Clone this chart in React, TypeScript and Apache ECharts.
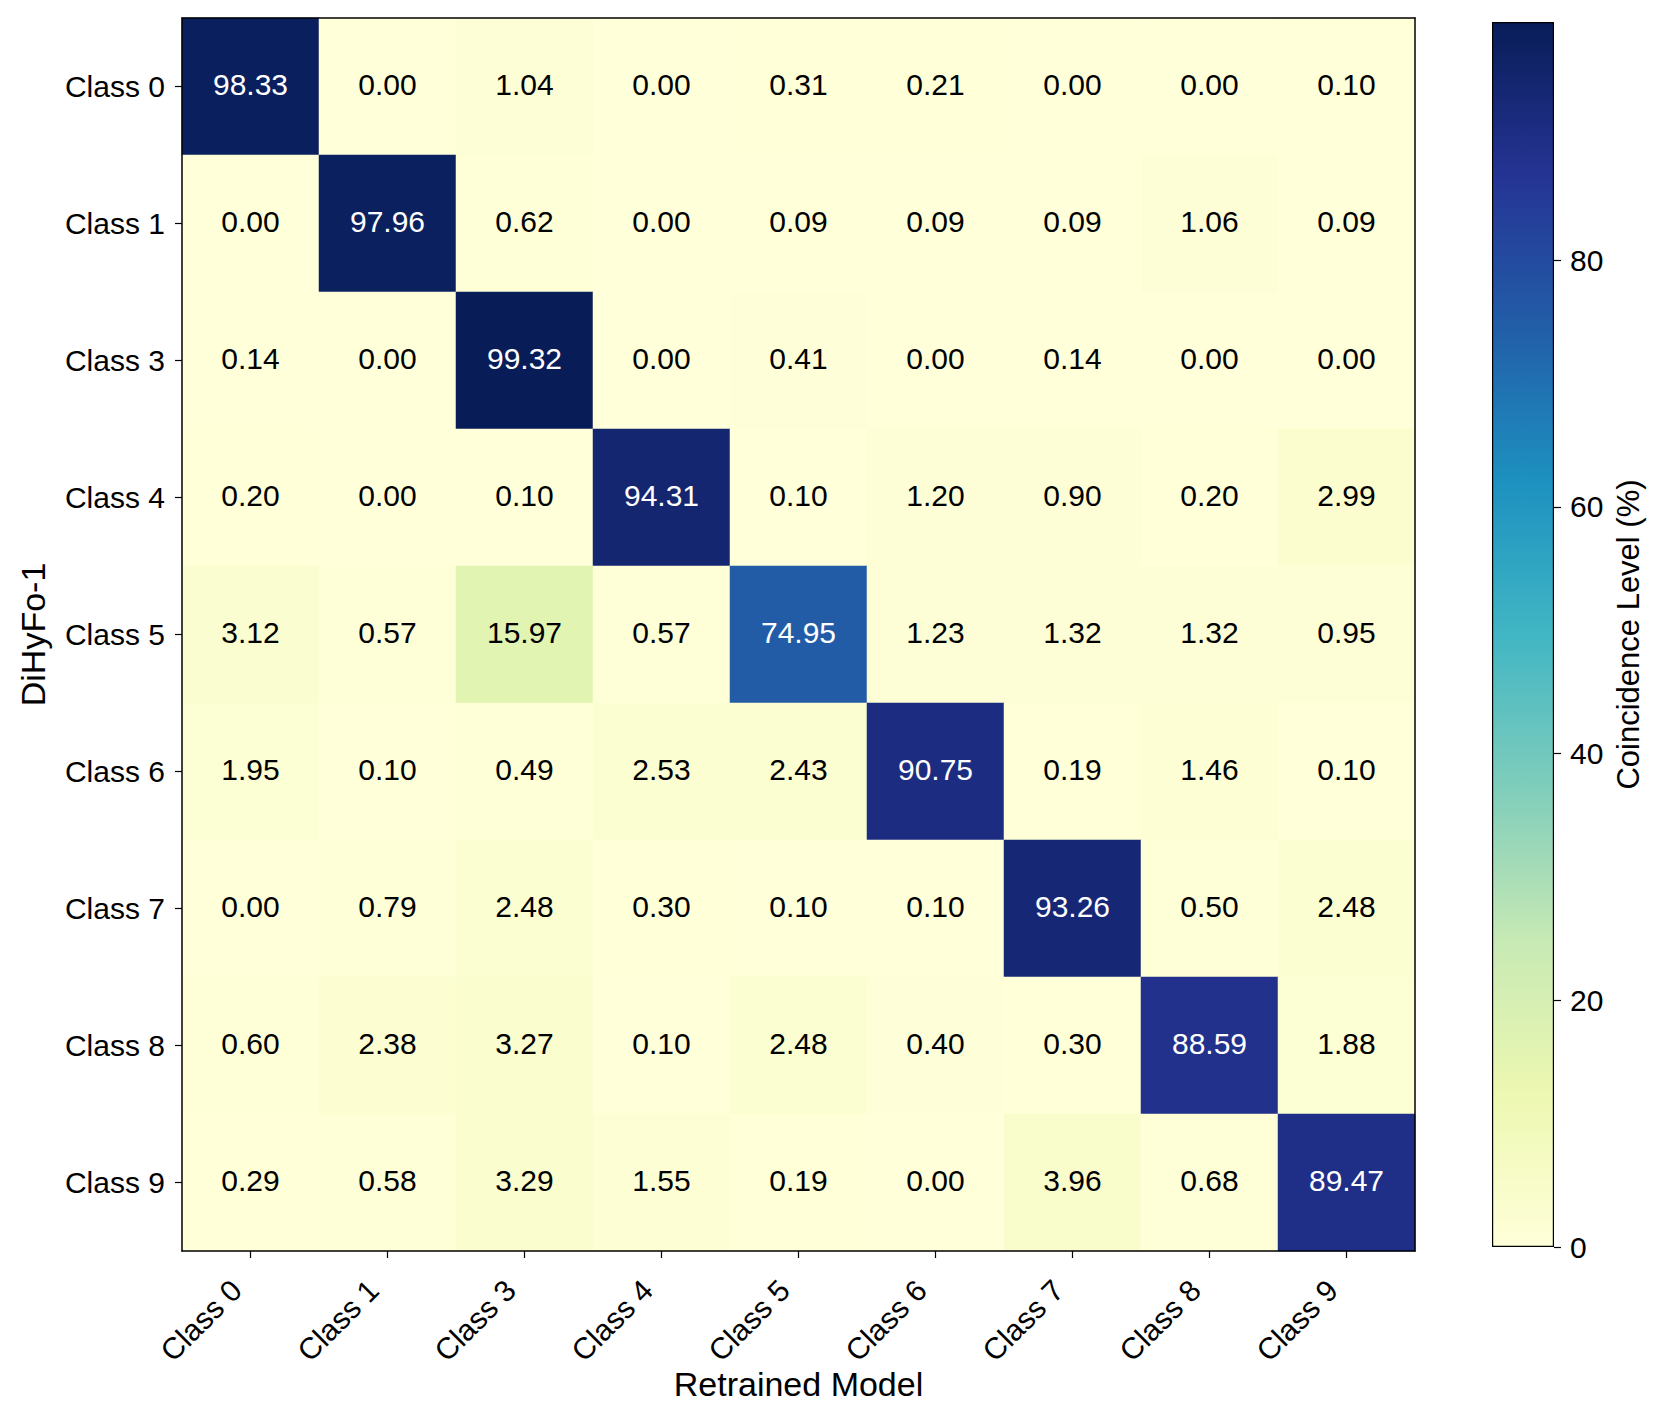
import React, { useEffect, useRef } from "react";
import * as echarts from "echarts";

const xCategories = ["Class 0", "Class 1", "Class 3", "Class 4", "Class 5", "Class 6", "Class 7", "Class 8", "Class 9"];
const yCategories = ["Class 0", "Class 1", "Class 3", "Class 4", "Class 5", "Class 6", "Class 7", "Class 8", "Class 9"];

const rowClass0 = [98.33, 0.0, 1.04, 0.0, 0.31, 0.21, 0.0, 0.0, 0.1];
const rowClass1 = [0.0, 97.96, 0.62, 0.0, 0.09, 0.09, 0.09, 1.06, 0.09];
const rowClass3 = [0.14, 0.0, 99.32, 0.0, 0.41, 0.0, 0.14, 0.0, 0.0];
const rowClass4 = [0.2, 0.0, 0.1, 94.31, 0.1, 1.2, 0.9, 0.2, 2.99];
const rowClass5 = [3.12, 0.57, 15.97, 0.57, 74.95, 1.23, 1.32, 1.32, 0.95];
const rowClass6 = [1.95, 0.1, 0.49, 2.53, 2.43, 90.75, 0.19, 1.46, 0.1];
const rowClass7 = [0.0, 0.79, 2.48, 0.3, 0.1, 0.1, 93.26, 0.5, 2.48];
const rowClass8 = [0.6, 2.38, 3.27, 0.1, 2.48, 0.4, 0.3, 88.59, 1.88];
const rowClass9 = [0.29, 0.58, 3.29, 1.55, 0.19, 0.0, 3.96, 0.68, 89.47];

const rows = [rowClass0, rowClass1, rowClass3, rowClass4, rowClass5, rowClass6, rowClass7, rowClass8, rowClass9];

const colorbarTicks = [0, 20, 40, 60, 80];
const ylgnbu = ["#ffffd9", "#edf8b1", "#c7e9b4", "#7fcdbb", "#41b6c4", "#1d91c0", "#225ea8", "#253494", "#081d58"];

const FONT = "'Liberation Sans', Arial, Helvetica, sans-serif";

export default function App() {
  const ref = useRef<HTMLDivElement>(null);

  useEffect(() => {
    document.body.style.margin = "0";
    document.body.style.overflow = "hidden";
    if (!ref.current) return;
    const chart = echarts.init(ref.current, null, { renderer: "svg" });

    const all = rows.flat();
    const colorMax = Math.max(...all);
    const colorMin = 0;
    const thresh = (colorMax + colorMin) / 2;

    const data: any[] = [];
    rows.forEach((row, yi) => {
      row.forEach((v, xi) => {
        data.push({
          value: [xi, yi, v],
          label: { color: v > thresh ? "#ffffff" : "#000000" },
        });
      });
    });

    const gradStops = ylgnbu
      .slice()
      .reverse()
      .map((c, i, arr) => ({ offset: i / (arr.length - 1), color: c }));

    const option: any = {
      animation: false,
      backgroundColor: "#ffffff",
      textStyle: { fontFamily: FONT },
      grid: [
        { left: 182, top: 18, width: 1233, height: 1233, containLabel: false },
        { left: 1492, top: 22, width: 62, height: 1225, containLabel: false },
      ],
      xAxis: [
        {
          type: "category",
          gridIndex: 0,
          data: xCategories,
          position: "bottom",
          z: 10,
          axisLine: { show: true, lineStyle: { color: "#000", width: 1.5 } },
          axisTick: { show: true, alignWithLabel: true, length: 7, lineStyle: { color: "#000", width: 1.2 } },
          axisLabel: {
            rotate: 45,
            fontSize: 30,
            color: "#000",
            margin: 20,
            padding: [0, 20, 0, 0],
            fontFamily: FONT,
            interval: 0,
          },
          splitLine: { show: false },
          name: "Retrained Model",
          nameLocation: "middle",
          nameMoveOverlap: false,
          nameGap: 116,
          nameTextStyle: { fontSize: 34, color: "#000", fontFamily: FONT },
        },
        {
          type: "category",
          gridIndex: 0,
          data: xCategories,
          position: "top",
          z: 10,
          axisLine: { show: true, lineStyle: { color: "#000", width: 1.5 } },
          axisTick: { show: false },
          axisLabel: { show: false },
        },
        {
          type: "category",
          gridIndex: 1,
          data: ["cb"],
          show: false,
        },
      ],
      yAxis: [
        {
          type: "category",
          gridIndex: 0,
          data: yCategories,
          inverse: true,
          position: "left",
          z: 10,
          axisLine: { show: true, lineStyle: { color: "#000", width: 1.5 } },
          axisTick: { show: true, alignWithLabel: true, length: 7, lineStyle: { color: "#000", width: 1.2 } },
          axisLabel: { fontSize: 30, color: "#000", margin: 17, fontFamily: FONT },
          splitLine: { show: false },
          name: "DiHyFo-1",
          nameLocation: "middle",
          nameRotate: 90,
          nameMoveOverlap: false,
          nameGap: 132,
          nameTextStyle: { fontSize: 34, color: "#000", fontFamily: FONT },
        },
        {
          type: "category",
          gridIndex: 0,
          data: yCategories,
          inverse: true,
          position: "right",
          z: 10,
          axisLine: { show: true, lineStyle: { color: "#000", width: 1.5 } },
          axisTick: { show: false },
          axisLabel: { show: false },
        },
        {
          type: "value",
          gridIndex: 1,
          position: "right",
          min: colorMin,
          max: colorMax,
          z: 10,
          axisLine: { show: false },
          axisTick: { show: true, length: 7, customValues: colorbarTicks, lineStyle: { color: "#000", width: 1.2 } },
          axisLabel: { show: true, customValues: colorbarTicks, fontSize: 30, color: "#000", margin: 16, fontFamily: FONT },
          splitLine: { show: false },
          name: "Coincidence Level (%)",
          nameLocation: "middle",
          nameRotate: 90,
          nameMoveOverlap: false,
          nameGap: 59,
          nameTextStyle: { fontSize: 31, color: "#000", fontFamily: FONT },
        },
      ],
      visualMap: {
        show: false,
        seriesIndex: 0,
        dimension: 2,
        min: colorMin,
        max: colorMax,
        inRange: { color: ylgnbu },
      },
      series: [
        {
          type: "heatmap",
          xAxisIndex: 0,
          yAxisIndex: 0,
          data,
          label: {
            show: true,
            fontSize: 30,
            fontFamily: FONT,
            offset: [0, -2],
            formatter: (p: any) => Number(p.value[2]).toFixed(2),
          },
          itemStyle: { borderWidth: 0 },
          emphasis: { disabled: true },
        },
        {
          type: "bar",
          xAxisIndex: 2,
          yAxisIndex: 2,
          data: [colorMax],
          barWidth: "100%",
          itemStyle: {
            color: new echarts.graphic.LinearGradient(0, 0, 0, 1, gradStops),
            borderColor: "#000",
            borderWidth: 1.2,
          },
          silent: true,
        },
      ],
    };

    chart.setOption(option);
    return () => chart.dispose();
  }, []);

  return <div ref={ref} style={{ width: 1661, height: 1423 }} />;
}
